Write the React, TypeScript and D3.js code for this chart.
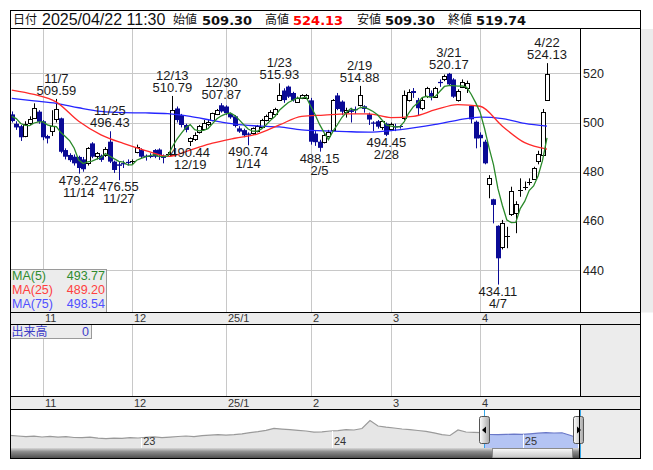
import React from "react";
import * as d3 from "d3";

// ---------------- data ----------------
const dates = [
  "10/23","10/24","10/25","10/28","10/29","10/30","10/31",
  "11/1","11/5","11/6","11/7","11/8","11/11","11/12","11/13","11/14","11/15","11/18","11/19","11/20","11/21","11/22","11/25","11/26","11/27","11/28","11/29",
  "12/2","12/3","12/4","12/5","12/6","12/9","12/10","12/11","12/12","12/13","12/16","12/17","12/18","12/19","12/20","12/23","12/24","12/25","12/26","12/27","12/30",
  "1/6","1/7","1/8","1/9","1/10","1/14","1/15","1/16","1/17","1/20","1/21","1/22","1/23","1/24","1/27","1/28","1/29","1/30","1/31",
  "2/3","2/4","2/5","2/6","2/7","2/10","2/12","2/13","2/14","2/17","2/18","2/19","2/20","2/21","2/25","2/26","2/27","2/28",
  "3/3","3/4","3/5","3/6","3/7","3/10","3/11","3/12","3/13","3/14","3/17","3/18","3/19","3/21","3/24","3/25","3/26","3/27","3/28","3/31",
  "4/1","4/2","4/3","4/4","4/7","4/8","4/9","4/10","4/11","4/14","4/15","4/16","4/17","4/18","4/21","4/22",
];
const opens = [
  503.3, 499.5, 498.5, 494.5, 500.0, 502.0, 504.4,
  500.5, 494.5, 496.5, 501.3, 501.7, 488.8, 486.8, 486.1, 486.0, 485.0, 483.4, 491.5, 486.1, 486.5, 486.8, 492.2, 484.1, 483.0, 483.5, 484.0,
  484.0, 488.1, 488.8, 486.5, 486.5, 488.8, 489.0, 486.5, 487.0, 486.8, 505.7, 503.0, 499.0, 492.4, 493.5, 496.0, 497.5, 499.5, 501.0, 503.5, 507.0,
  506.5, 503.5, 502.5, 497.6, 496.9, 495.5, 495.6, 496.5, 498.3, 501.0, 502.1, 503.5, 509.1, 513.0, 514.6, 512.0, 508.5, 509.8, 510.0,
  509.0, 495.5, 492.2, 492.2, 494.5, 497.0, 511.0, 508.5, 504.0, 505.0, 505.5, 507.1, 506.6, 503.3, 500.0, 500.5, 497.9, 499.5,
  497.5, 498.5, 498.5, 501.7, 509.1, 512.8, 509.1, 505.8, 510.5, 512.0, 510.5, 516.5, 517.5, 519.8, 517.5, 509.5, 514.6, 514.0, 506.7, 500.3,
  495.0, 492.2, 475.0, 468.8, 458.0, 449.5, 453.5, 462.7, 463.3, 472.4, 473.7, 475.9, 477.3, 484.1, 487.1, 509.3,
];
const highs = [
  504.5, 500.5, 499.0, 500.5, 502.5, 507.8, 505.0,
  501.0, 495.0, 505.0, 509.59, 502.0, 489.5, 487.5, 487.0, 486.5, 486.0, 490.0, 492.0, 488.0, 487.0, 490.0, 496.43, 484.5, 484.0, 484.5, 485.0,
  485.0, 491.0, 489.5, 487.0, 487.5, 489.2, 489.5, 487.0, 488.0, 510.79, 506.5, 503.5, 499.5, 494.0, 496.0, 499.0, 501.0, 501.0, 504.0, 505.5, 507.87,
  507.0, 504.0, 503.0, 498.5, 497.5, 496.0, 498.0, 499.0, 501.5, 503.2, 505.0, 506.0, 515.93, 513.9, 515.0, 512.5, 510.5, 511.5, 511.6,
  510.0, 496.5, 493.0, 495.5, 497.0, 509.5, 512.0, 509.0, 506.0, 506.0, 506.5, 514.88, 507.0, 504.0, 500.5, 501.0, 501.0, 500.0,
  500.0, 499.5, 499.0, 513.0, 513.5, 514.0, 510.0, 510.0, 514.5, 513.0, 514.5, 517.5, 519.5, 520.17, 518.0, 513.5, 517.5, 517.0, 507.0, 500.8,
  496.0, 493.0, 478.6, 469.0, 458.2, 460.4, 457.6, 473.9, 468.0, 477.3, 476.0, 477.3, 482.0, 488.5, 505.5, 524.13,
];
const lows = [
  500.0, 497.0, 492.5, 494.0, 499.0, 501.5, 499.5,
  492.8, 491.5, 494.5, 500.0, 487.5, 485.0, 484.0, 482.5, 479.22, 480.0, 482.5, 485.5, 485.0, 484.0, 486.0, 483.5, 479.5, 476.55, 481.5, 482.5,
  482.8, 487.5, 485.5, 484.5, 485.5, 485.5, 484.8, 483.4, 486.0, 486.5, 500.0, 498.0, 496.0, 490.44, 492.5, 495.5, 497.0, 498.5, 500.5, 503.0, 504.0,
  503.0, 501.5, 498.0, 495.8, 494.0, 490.74, 495.0, 496.0, 498.0, 500.5, 501.8, 503.0, 508.8, 508.0, 510.0, 508.5, 508.0, 509.5, 509.5,
  491.0, 490.5, 488.15, 491.5, 494.0, 496.5, 505.0, 503.0, 502.0, 500.0, 503.5, 506.5, 504.0, 499.0, 496.5, 497.5, 497.0, 494.45,
  496.8, 496.5, 497.5, 501.0, 508.5, 510.0, 503.0, 505.0, 510.0, 509.0, 510.0, 514.5, 516.8, 515.0, 510.0, 508.5, 514.0, 512.0, 499.6, 489.5,
  490.0, 483.0, 469.2, 459.0, 434.11, 448.4, 448.9, 462.0, 455.0, 469.8, 472.5, 474.5, 476.8, 483.0, 486.0, 509.3,
];
const closes = [
  500.6, 498.0, 494.0, 499.5, 501.5, 506.0, 500.3,
  494.0, 493.5, 498.6, 505.3, 488.1, 486.1, 484.7, 483.4, 481.5, 481.0, 489.5, 486.1, 487.4, 484.8, 489.1, 484.1, 480.7, 482.4, 483.0, 483.5,
  484.2, 490.2, 486.1, 486.0, 486.3, 486.1, 486.8, 485.6, 487.2, 505.1, 501.0, 499.0, 497.0, 493.5, 495.0, 498.6, 500.0, 500.3, 503.7, 505.1, 504.5,
  503.8, 502.1, 498.6, 496.3, 494.8, 495.0, 497.6, 498.5, 501.0, 502.8, 504.4, 505.5, 511.2, 509.1, 510.5, 509.0, 510.0, 511.0, 511.2,
  492.2, 492.0, 489.7, 494.9, 496.3, 509.0, 505.5, 504.4, 505.0, 504.3, 505.0, 511.2, 505.5, 501.2, 499.5, 498.3, 500.5, 495.0,
  499.5, 498.0, 498.2, 511.1, 512.5, 512.0, 505.8, 509.1, 513.9, 510.5, 514.0, 516.0, 518.9, 515.5, 510.5, 513.0, 516.6, 516.0, 501.3, 493.5,
  493.6, 483.4, 477.3, 466.5, 444.8, 459.3, 453.9, 472.1, 466.9, 472.7, 473.9, 476.0, 481.6, 487.1, 504.4, 519.74,
];
const priorCloses = [502.5, 504.0, 503.5, 501.9];

const maSampleIdx = [0, 5, 10, 15, 20, 25, 30, 35, 40, 45, 50, 55, 60, 65, 70, 75, 80, 85, 90, 95, 100, 105, 110, 115, 120];
const ma25Values = [513.2, 511.4, 508.3, 500.5, 495.0, 491.5, 488.6, 486.2, 488.8, 491.6, 493.6, 495.3, 499.0, 502.5, 503.0, 503.5, 503.5, 502.0, 502.5, 505.2, 507.3, 506.6, 498.5, 491.8, 489.2];
const ma75Values = [509.8, 508.8, 507.8, 506.0, 504.5, 504.0, 503.9, 503.6, 502.5, 500.8, 499.3, 498.6, 498.2, 497.0, 496.6, 496.3, 496.1, 496.7, 497.8, 499.2, 501.0, 502.2, 501.6, 499.6, 498.54];

const priceTicks = [440, 460, 480, 500, 520];
const monthStarts = ["11/1", "12/2", "1/6", "2/3", "3/3", "4/1"];
const monthLabels = ["11", "12", "25/1", "2", "3", "4"];
const highMarks = ["11/7", "11/25", "12/13", "12/30", "1/23", "2/19", "3/21", "4/22"];
const lowMarks = ["11/14", "11/27", "12/19", "1/14", "2/5", "2/28", "4/7"];

const headerDate = "2025/04/22 11:30";
const headerLabels = ["日付", "始値", "高値", "安値", "終値"];
const volumeLabel = "出来高";
const volumeValue = 0;

const navValues = [
  12.7, 12.0, 11.4, 11.8, 11.0, 11.6, 10.8, 11.3, 10.5, 10.3, 10.9, 9.8, 9.3, 9.9, 9.6, 10.4, 10.0, 10.6,
  11.2, 10.4, 10.9, 11.5, 12.0, 11.4, 12.3, 12.9, 13.3, 12.8, 13.3, 14.2, 15.3, 16.4, 17.7, 19.6, 18.9, 18.3,
  17.6, 17.0, 15.8, 16.2, 17.0, 17.4, 18.3, 18.0, 19.5, 27.5, 22.0, 20.8, 20.0, 19.0, 18.3, 17.5, 16.7, 15.2,
  13.3, 12.5, 18.0, 16.0, 15.6, 15.3, 13.6, 13.3, 13.6, 13.9, 13.7, 14.2, 14.8, 15.3, 15.0, 15.2, 12.7, 10.0,
];
const navYearLabels = ["23", "24", "25"];
const navYearPos = [16.4, 40.25, 64.1];
const navWindow = [59.25, 71.2];

// ---------------- helpers ----------------
const FONT = "'Liberation Sans', Arial, sans-serif";
const CJK = "'Noto Sans CJK JP', sans-serif";
const BOLD = "'DejaVu Sans', sans-serif";

const L = 10, R = 580, RR = 641;
const mainTop = 29, mainBot = 312.5;
const s1Bot = 324.5, volBot = 396.5, s2Bot = 409.5, navBot = 448, botY = 458.5;

export default function App() {
  const x = d3.scaleLinear().domain([-0.4, 127.4]).range([L, R]);
  const y = d3.scaleLinear().domain([440, 520]).range([270.1, 73.3]);
  const n = dates.length;

  const allCloses = priorCloses.concat(closes);
  const ma5 = closes.map((_, i) => d3.mean(allCloses.slice(i, i + 5)) as number);

  const line5 = d3.line<number>().x((_, i) => x(i)).y((d) => y(d));
  const lineS = d3
    .line<number>()
    .x((_, k) => x(maSampleIdx[k]))
    .y((d) => y(d))
    .curve(d3.curveMonotoneX);

  const monthX = monthStarts.map((d) => Math.round(x(dates.indexOf(d))) + 0.5);

  const nx = d3.scaleLinear().domain([0, navValues.length - 1]).range([L, 578]);
  const ny = d3.scaleLinear().domain([0, 37]).range([navBot, 411]);
  const navLine = d3.line<number>().x((_, k) => nx(k)).y((d) => ny(d));
  const navArea = d3.area<number>().x((_, k) => nx(k)).y0(navBot).y1((d) => ny(d));
  const selL = nx(navWindow[0]);
  const selR = nx(navWindow[1]);

  const last = n - 1;
  const headerVals = [opens[last], highs[last], lows[last], closes[last]].map((v) => v.toFixed(2));

  const candles = dates.map((d, i) => {
    const px = Math.round(x(i));
    const o = opens[i], c = closes[i];
    const up = c >= o;
    const yTop = y(Math.max(o, c));
    const yBot = y(Math.min(o, c));
    const col = up ? "#000" : "#0a0a96";
    const h = yBot - yTop;
    return (
      <g key={d}>
        <line x1={px + 0.5} x2={px + 0.5} y1={y(highs[i])} y2={y(lows[i])} stroke={col} strokeWidth={1} />
        {h < 1.2 ? (
          <line x1={px - 2} x2={px + 3} y1={Math.round(yTop) + 0.5} y2={Math.round(yTop) + 0.5} stroke={col} strokeWidth={1} />
        ) : up ? (
          <rect x={px - 1.5} y={Math.round(yTop) + 0.5} width={4} height={Math.max(1, Math.round(h))} fill="#fff" stroke="#000" strokeWidth={1} />
        ) : (
          <rect x={px - 2} y={yTop} width={5} height={h} fill="#0a0a96" />
        )}
      </g>
    );
  });

  const markHigh = highMarks.map((d) => {
    const i = dates.indexOf(d);
    const cx = x(i);
    const yy = y(highs[i]);
    return (
      <g key={"h" + d} fontFamily={FONT} fontSize={13} fill="#1a1a1a" textAnchor="middle">
        <text x={cx} y={yy - 16}>{d}</text>
        <text x={cx} y={yy - 4}>{highs[i].toFixed(2)}</text>
      </g>
    );
  });
  const markLow = lowMarks.map((d) => {
    const i = dates.indexOf(d);
    const cx = x(i);
    const yy = y(lows[i]);
    return (
      <g key={"l" + d} fontFamily={FONT} fontSize={13} fill="#1a1a1a" textAnchor="middle">
        <text x={cx} y={yy + 11}>{lows[i].toFixed(2)}</text>
        <text x={cx} y={yy + 23}>{d}</text>
      </g>
    );
  });

  const headerLabelX = [13, 173, 265, 357, 448];
  const headerValX = [202, 293, 385, 476];

  return (
    <svg width={653} height={470} style={{ position: "absolute", left: 0, top: 0, background: "#fff" }}>
      <defs>
        <linearGradient id="scrollG" x1="0" y1="0" x2="0" y2="1">
          <stop offset="0" stopColor="#d8d8d8" />
          <stop offset="0.35" stopColor="#8c8c8c" />
          <stop offset="1" stopColor="#4a4a4a" />
        </linearGradient>
        <linearGradient id="thumbG" x1="0" y1="0" x2="0" y2="1">
          <stop offset="0" stopColor="#fbfbfb" />
          <stop offset="1" stopColor="#c4c4c4" />
        </linearGradient>
        <linearGradient id="handleG" x1="0" y1="0" x2="1" y2="0">
          <stop offset="0" stopColor="#ffffff" />
          <stop offset="1" stopColor="#a8a8a8" />
        </linearGradient>
        <clipPath id="plotClip">
          <rect x={L} y={mainTop} width={R - L} height={mainBot - mainTop} />
        </clipPath>
        <clipPath id="selClip">
          <rect x={selL} y={410} width={selR - selL} height={40} />
        </clipPath>
        <clipPath id="navClip">
          <rect x={L} y={410} width={579 - L} height={40} />
        </clipPath>
      </defs>

      {/* right gray strip beside price axis */}
      <rect x={RR} y={mainTop} width={653 - RR} height={mainBot - mainTop} fill="#ececec" />

      {/* main grid */}
      <g stroke="#c8c8c8" strokeWidth={1}>
        {priceTicks.map((t) => (
          <line key={t} x1={L} x2={R} y1={Math.round(y(t)) + 0.5} y2={Math.round(y(t)) + 0.5} />
        ))}
        {monthX.map((mx, k) => (
          <line key={k} x1={mx} x2={mx} y1={mainTop} y2={mainBot} />
        ))}
      </g>

      <g clipPath="url(#plotClip)">{candles}</g>

      {/* moving averages */}
      <g fill="none" strokeWidth={1.3} clipPath="url(#plotClip)">
        <path d={lineS(ma75Values) || ""} stroke="#2626ff" />
        <path d={lineS(ma25Values) || ""} stroke="#ff2a2a" />
        <path d={line5(ma5) || ""} stroke="#2a8a2a" />
      </g>

      {markHigh}
      {markLow}

      {/* MA legend */}
      <rect x={10.5} y={269.5} width={96} height={43} fill="#ececec" stroke="#9a9a9a" />
      <g fontFamily={FONT} fontSize={12.5}>
        <text x={12} y={280} fill="#2e8b2e">MA(5)</text>
        <text x={105} y={280} fill="#2e8b2e" textAnchor="end">{ma5[last].toFixed(2)}</text>
        <text x={12} y={294} fill="#ff4040">MA(25)</text>
        <text x={105} y={294} fill="#ff4040" textAnchor="end">{ma25Values[ma25Values.length - 1].toFixed(2)}</text>
        <text x={12} y={308} fill="#5050ff">MA(75)</text>
        <text x={105} y={308} fill="#5050ff" textAnchor="end">{ma75Values[ma75Values.length - 1].toFixed(2)}</text>
      </g>

      {/* price axis labels */}
      <g fontFamily={FONT} fontSize={12.5} fill="#222">
        {priceTicks.map((t) => (
          <text key={t} x={583} y={y(t) + 4.5}>{t}</text>
        ))}
      </g>

      {/* header */}
      <rect x={10.5} y={10.5} width={630} height={18} fill="#fff" stroke="#000" />
      <g fill="#111">
        {headerLabels.map((t, k) => (
          <text key={t} x={headerLabelX[k]} y={24} fontFamily={CJK} fontSize={12}>{t}</text>
        ))}
        <text x={42} y={24.5} fontFamily={FONT} fontSize={16}>{headerDate}</text>
        {headerVals.map((v, k) => (
          <text key={k} x={headerValX[k]} y={24.5} fontFamily={BOLD} fontWeight="bold" fontSize={13} fill={k === 1 ? "#ff0000" : "#111"}>{v}</text>
        ))}
      </g>

      {/* strip 1 */}
      <rect x={L} y={mainBot} width={RR - L} height={s1Bot - mainBot} fill="#ececec" />
      {/* volume panel */}
      <rect x={R} y={s1Bot} width={RR - R} height={volBot - s1Bot} fill="#ececec" />
      <g stroke="#c8c8c8">
        {monthX.map((mx, k) => (
          <line key={k} x1={mx} x2={mx} y1={s1Bot} y2={volBot} />
        ))}
      </g>
      <rect x={10.5} y={324.5} width={81} height={14} fill="#ececec" stroke="#9a9a9a" />
      <text x={11.5} y={336} fontFamily={CJK} fontSize={12} fill="#3c3cc8">{volumeLabel}</text>
      <text x={89} y={336} fontFamily={FONT} fontSize={12.5} fill="#3c3cc8" textAnchor="end">{volumeValue}</text>

      {/* strip 2 */}
      <rect x={L} y={volBot} width={RR - L} height={s2Bot - volBot} fill="#ececec" />

      <g fontFamily={FONT} fontSize={11} fill="#333">
        {monthX.map((mx, k) => (
          <text key={"a" + k} x={mx + 1.5} y={322}>{monthLabels[k]}</text>
        ))}
        {monthX.map((mx, k) => (
          <text key={"b" + k} x={mx + 1.5} y={407}>{monthLabels[k]}</text>
        ))}
      </g>

      {/* navigator */}
      <rect x={579} y={s2Bot} width={RR - 579} height={botY - s2Bot} fill="#ececec" />
      <g clipPath="url(#navClip)">
        <path d={navArea(navValues) || ""} fill="#e6e6e6" />
        <path d={navLine(navValues) || ""} fill="none" stroke="#9a9a9a" strokeWidth={1.2} />
      </g>
      <g clipPath="url(#selClip)">
        <rect x={selL} y={410} width={selR - selL} height={navBot - 410} fill="#fff" />
        <path d={navArea(navValues) || ""} fill="#b4c4f4" />
        <path d={navLine(navValues) || ""} fill="none" stroke="#6a78c8" strokeWidth={1.2} />
      </g>
      <g stroke="#fff" strokeWidth={1}>
        {navYearPos.map((p, k) => (
          <line key={k} x1={Math.round(nx(p)) + 0.5} x2={Math.round(nx(p)) + 0.5} y1={ny(navValues[Math.round(p)])} y2={navBot} />
        ))}
      </g>
      <g fontFamily={FONT} fontSize={11} fill="#333">
        {navYearPos.map((p, k) => (
          <text key={k} x={nx(p) + 2} y={445}>{navYearLabels[k]}</text>
        ))}
      </g>
      <g stroke="#33a6e8" strokeWidth={1}>
        <line x1={Math.round(selL) + 0.5} x2={Math.round(selL) + 0.5} y1={410} y2={botY} />
        <line x1={Math.round(selR) + 0.5} x2={Math.round(selR) + 0.5} y1={410} y2={botY} />
      </g>

      {/* scrollbar */}
      <rect x={L} y={navBot} width={579 - L} height={botY - navBot} fill="url(#scrollG)" />
      <rect x={492.5} y={navBot + 0.5} width={80} height={botY - navBot - 1} fill="url(#thumbG)" stroke="#8a8a8a" />

      {/* handles */}
      <rect x={479.5} y={416.5} width={10} height={27} rx={2} fill="url(#handleG)" stroke="#555" />
      <path d="M482,430 L486,426.5 L486,433.5 Z" fill="#000" />
      <rect x={573.5} y={416.5} width={10} height={27} rx={2} fill="url(#handleG)" stroke="#555" />
      <path d="M581,430 L577,426.5 L577,433.5 Z" fill="#000" />

      {/* frame lines */}
      <g stroke="#000" strokeWidth={1} fill="none">
        <line x1={10.5} x2={10.5} y1={10} y2={botY} />
        <line x1={640.5} x2={640.5} y1={10} y2={botY} />
        <line x1={580.5} x2={580.5} y1={mainTop} y2={mainBot} />
        <line x1={580.5} x2={580.5} y1={s1Bot} y2={volBot} />
        <line x1={579.5} x2={579.5} y1={s2Bot} y2={botY} />
        <line x1={10} x2={641} y1={mainBot} y2={mainBot} />
        <line x1={10} x2={641} y1={s1Bot} y2={s1Bot} />
        <line x1={10} x2={641} y1={volBot} y2={volBot} />
        <line x1={10} x2={641} y1={s2Bot} y2={s2Bot} />
        <line x1={10} x2={641} y1={botY} y2={botY} />
      </g>
    </svg>
  );
}
